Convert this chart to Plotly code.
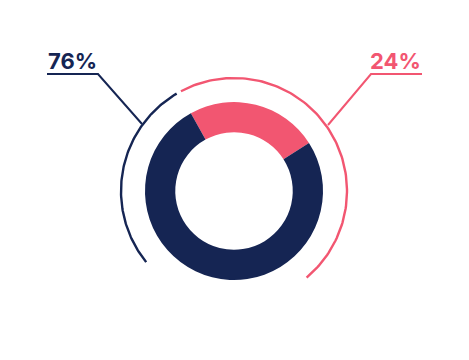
import numpy as np
import plotly.graph_objects as go

# Data
categories = ["24%", "76%"]
values = [24, 76]
label_texts = ["24%", "76%"]

NAVY = "#152553"
PINK = "#f25671"
W, H = 469, 360
OFF = 8  # page body margin compensation

# layout constants (screen pixels)
cx, cy, R = 234, 191, 89
hole = 0.66
arc_r = 113

fig = go.Figure()

pcx, pcy = cx - OFF, cy - OFF
fig.add_trace(go.Pie(
    labels=categories, values=values, sort=False, direction="clockwise",
    rotation=-29, hole=hole, textinfo="none", hoverinfo="label",
    marker=dict(colors=[PINK, NAVY], line=dict(width=0)),
    domain=dict(x=[(pcx - R) / W, (pcx + R) / W], y=[1 - (pcy + R) / H, 1 - (pcy - R) / H]),
    showlegend=False,
))

def arc(a0, a1, n=120):
    t = np.radians(np.linspace(a0, a1, n))
    return cx + arc_r * np.sin(t), cy - arc_r * np.cos(t)

# outer decorative arcs (angles from 12 o'clock, clockwise)
ax, ay = arc(-28, 140)
fig.add_trace(go.Scatter(x=ax, y=ay, mode="lines", line=dict(color=PINK, width=2.4),
                         hoverinfo="skip", showlegend=False))
bx, by = arc(-129, -30.5)
fig.add_trace(go.Scatter(x=bx, y=by, mode="lines", line=dict(color=NAVY, width=2.4),
                         hoverinfo="skip", showlegend=False))

# leader lines
fig.add_trace(go.Scatter(x=[142, 98, 47], y=[124, 74, 74], mode="lines",
                         line=dict(color=NAVY, width=2), hoverinfo="skip", showlegend=False))
fig.add_trace(go.Scatter(x=[328, 371, 422], y=[125, 74, 74], mode="lines",
                         line=dict(color=PINK, width=2), hoverinfo="skip", showlegend=False))

fig.add_annotation(x=46, y=61, text=label_texts[1], showarrow=False, xanchor="left", yanchor="middle",
                   font=dict(family="Inter", size=22, color=NAVY, weight=700))
fig.add_annotation(x=423, y=61, text=label_texts[0], showarrow=False, xanchor="right", yanchor="middle",
                   font=dict(family="Inter", size=22, color=PINK, weight=700))

fig.update_layout(
    width=W, height=H, margin=dict(l=0, r=0, t=0, b=0),
    paper_bgcolor="white", plot_bgcolor="white",
    xaxis=dict(range=[OFF, W + OFF], visible=False, fixedrange=True),
    yaxis=dict(range=[H + OFF, OFF], visible=False, fixedrange=True),
)

fig.write_html("out.html")
